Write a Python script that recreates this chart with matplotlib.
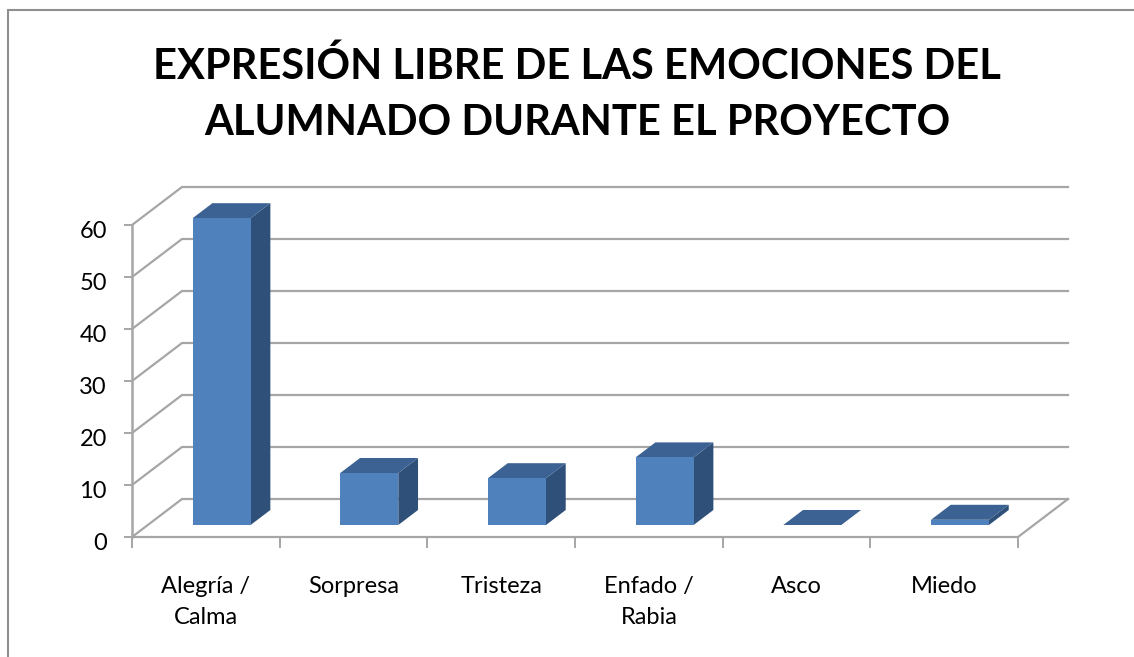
import matplotlib
matplotlib.use("Agg")
import matplotlib.pyplot as plt
from matplotlib.patches import Polygon

CATEGORIES = ["Alegría /\nCalma", "Sorpresa", "Tristeza", "Enfado /\nRabia", "Asco", "Miedo"]
VALUES = [59, 10, 9, 13, 0, 1]
Y_TICKS = [0, 10, 20, 30, 40, 50, 60]
TITLE = "EXPRESIÓN LIBRE DE LAS EMOCIONES DEL\nALUMNADO DURANTE EL PROYECTO"

W, H = 1134, 657
X0, Y0 = 132, 537       # pixel of category 0 / value 0
PX_CAT, PX_VAL = 147.67, 5.2

# oblique depth of the floor, in data units
DX, DY = 50 / PX_CAT, 38 / PX_VAL
BAR_W = 58 / PX_CAT
BAR_FRONT, BAR_BACK = 12 / 38, 27 / 38

GRID = "#a6a6a6"
FRONT = "#4f81bd"
SIDE = "#2f5079"
TOP = "#3b6292"

plt.rcParams["font.family"] = ["Lato", "DejaVu Sans"]

fig = plt.figure(figsize=(W / 100, H / 100), dpi=100)
ax = fig.add_axes([0, 0, 1, 1])
ax.set_xlim(-X0 / PX_CAT, (W - X0) / PX_CAT)
ax.set_ylim(-(H - Y0) / PX_VAL, Y0 / PX_VAL)
ax.axis("off")


def px(x, y):
    """pixel position in the reference -> data units"""
    return (x - X0) / PX_CAT, (Y0 - y) / PX_VAL


# chart frame, only left and top edges are visible
frame_x, frame_y = zip(*[px(7.5, 660), px(7.5, 10), px(1140, 10)])
ax.plot(frame_x, frame_y, color="#8f8f8f", lw=1.5, solid_joinstyle="miter")

n = len(CATEGORIES)

# walls
for v in Y_TICKS:
    ax.plot([0, DX, n + DX], [v, v + DY, v + DY], color=GRID, lw=1.6, solid_joinstyle="miter", zorder=1)
    ax.plot([-0.05, 0], [v, v], color=GRID, lw=1.4, zorder=1)
    ax.text(-25 / PX_CAT, v - 1.2, str(v), ha="right", va="center", fontsize=17, color="black")
ax.plot([0, 0], [0, 60], color=GRID, lw=1.8, zorder=1)

# floor
ax.plot([0, n, n + DX], [0, 0, DY], color=GRID, lw=1.6, solid_joinstyle="miter", zorder=1)
for i in range(n + 1):
    ax.plot([i, i], [0, -1.9], color=GRID, lw=1.4, zorder=1)

# bars
for i, (cat, val) in enumerate(zip(CATEGORIES, VALUES)):
    lab_x = i + 0.5
    ax.text(lab_x, -7.5, cat, ha="center", va="top", fontsize=17, color="black", linespacing=1.6)
    x0 = lab_x - BAR_W / 2 + BAR_FRONT * DX
    x1 = x0 + BAR_W
    y0 = BAR_FRONT * DY
    dx = (BAR_BACK - BAR_FRONT) * DX
    dy = (BAR_BACK - BAR_FRONT) * DY
    ax.add_patch(Polygon([(x1, y0), (x1 + dx, y0 + dy), (x1 + dx, y0 + dy + val), (x1, y0 + val)],
                         fc=SIDE, ec="none", zorder=3))
    ax.add_patch(Polygon([(x0, y0 + val), (x1, y0 + val), (x1 + dx, y0 + val + dy), (x0 + dx, y0 + val + dy)],
                         fc=TOP, ec="none", zorder=3))
    ax.add_patch(Polygon([(x0, y0), (x1, y0), (x1, y0 + val), (x0, y0 + val)],
                         fc=FRONT, ec="none", zorder=4))

tx, ty = px(577, 94)
ax.text(tx, ty, TITLE, ha="center", va="center", fontsize=30, fontweight="bold", color="black", linespacing=1.58)

fig.savefig("out.png", dpi=100, facecolor="white")
